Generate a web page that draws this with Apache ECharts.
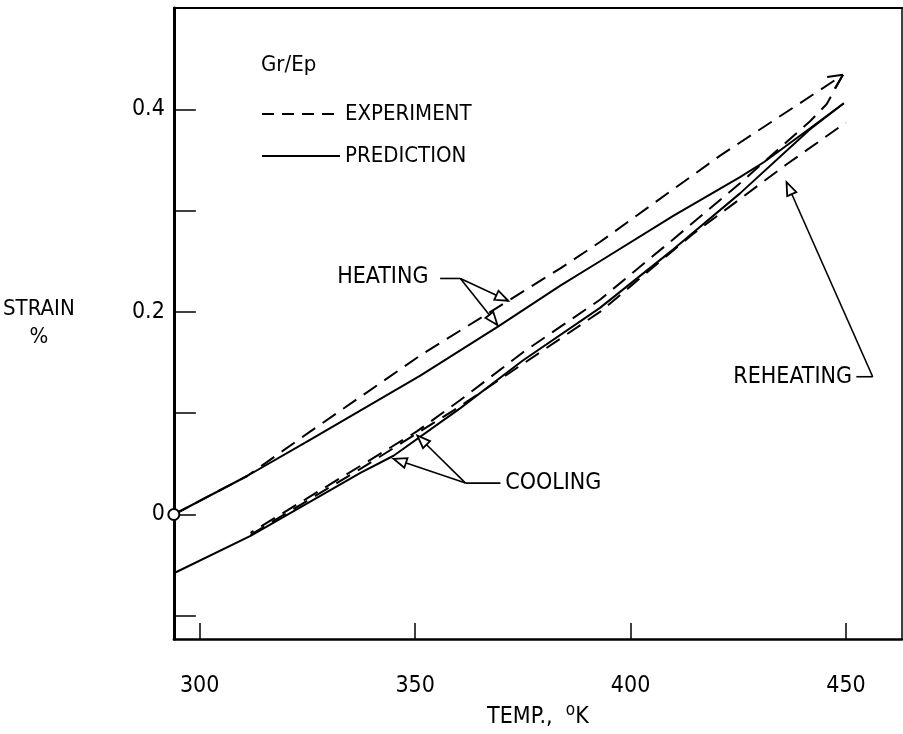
<!DOCTYPE html>
<html><head><meta charset="utf-8">
<script src="https://cdn.jsdelivr.net/npm/echarts@6/dist/echarts.min.js"></script>
<style>html,body{margin:0;padding:0;background:#fff}#c{width:903px;height:734px}</style>
</head><body><div id="c"></div>
<script>
// ---- data (temperature K, strain %) ----
const heatingExpT = [294, 311, 325.7, 351.2, 371.6, 383.7, 392.9, 420.7, 449.3];
const heatingExpS = [0, 0.038, 0.082, 0.157, 0.211, 0.243, 0.269, 0.354, 0.434];
const heatingPredT = [294, 311, 325.7, 351.2, 369.4, 383.7, 392.9, 410, 425.4, 431, 441.6, 449.5];
const heatingPredS = [0, 0.038, 0.074, 0.137, 0.186, 0.226, 0.250, 0.295, 0.333, 0.348, 0.381, 0.406];
const coolingPredT = [449.5, 441.6, 425.4, 410, 392.9, 375, 360.5, 345, 337.3, 311.8, 294];
const coolingPredS = [0.406, 0.38, 0.317, 0.262, 0.204, 0.152, 0.105, 0.058, 0.041, -0.021, -0.058];
const coolingExpT = [449.3, 445.5, 441.6, 425.4, 410, 392.9, 375, 360.5, 350.4, 337.3, 311.8];
const coolingExpS = [0.434, 0.405, 0.388, 0.327, 0.272, 0.212, 0.16, 0.113, 0.082, 0.048, -0.018];
const reheatExpT = [311.8, 337.3, 360.5, 392.9, 414.5, 436, 450];
const reheatExpS = [-0.02, 0.045, 0.107, 0.2, 0.277, 0.345, 0.387];
const xTicks = [300, 350, 400, 450];
const yTicks = [-0.1, 0, 0.1, 0.2, 0.3, 0.4];
const yLabels = [0, 0.2, 0.4];
const legendNames = ['EXPERIMENT', 'PREDICTION'];

const FONT = "'DejaVu Sans Condensed','DejaVu Sans',sans-serif";
const zip = (a, b) => a.map((v, i) => [v, b[i]]);
const dashed = { color: '#000', width: 2, type: [16, 9] };
const solid = { color: '#000', width: 2, type: 'solid' };

const chart = echarts.init(document.getElementById('c'));
const option = {
  animation: false,
  backgroundColor: '#fff',
  title: { text: 'Gr/Ep', left: 256, top: 49, textStyle: { fontFamily: FONT, fontSize: 22, fontWeight: 'normal', color: '#000' } },
  legend: {
    data: [
      { name: legendNames[0], lineStyle: { type: [12, 8], width: 2, color: '#000' } },
      { name: legendNames[1], lineStyle: { type: 'solid', width: 2, color: '#000' } }
    ],
    orient: 'vertical', left: 256, top: 98, itemWidth: 78, itemHeight: 14, itemGap: 20,
    itemStyle: { opacity: 0 },
    textStyle: { fontFamily: FONT, fontSize: 22, color: '#000' }, selectedMode: false
  },
  grid: { left: 173, right: 1, top: 8, bottom: 90, containLabel: false },
  xAxis: [{
    type: 'value', min: 294, max: 463, position: 'bottom',
    splitLine: { show: false },
    axisLine: { onZero: false, lineStyle: { color: '#000', width: 2.5 } },
    axisTick: { inside: true, length: 16, customValues: xTicks, lineStyle: { color: '#000', width: 1.5 } },
    axisLabel: { customValues: xTicks, margin: 35, fontFamily: FONT, fontSize: 23, color: '#000' },
    name: '{a|TEMP.,  }{s|o}{a|K}', nameLocation: 'middle', nameGap: 61,
    nameTextStyle: { rich: { a: { fontFamily: FONT, fontSize: 23, color: '#000' }, s: { fontFamily: FONT, fontSize: 17, color: '#000', padding: [0, 0, 14, 0] } } }
  }, {
    type: 'value', min: 294, max: 463, position: 'top',
    splitLine: { show: false }, axisTick: { show: false }, axisLabel: { show: false },
    axisLine: { onZero: false, lineStyle: { color: '#000', width: 2 } }
  }],
  yAxis: [{
    type: 'value', min: -0.123, max: 0.5, position: 'left',
    splitLine: { show: false },
    axisLine: { onZero: false, lineStyle: { color: '#000', width: 3 } },
    axisTick: { inside: true, length: 22, customValues: yTicks, lineStyle: { color: '#000', width: 1.5 } },
    axisLabel: { customValues: yLabels, margin: 9, fontFamily: FONT, fontSize: 23, color: '#000',
      formatter: v => (Math.abs(v) < 1e-9 ? '0' : v.toFixed(1)) },
    name: 'STRAIN\n%', nameLocation: 'middle', nameRotate: 0, nameGap: 135,
    nameTextStyle: { fontFamily: FONT, fontSize: 22, color: '#000', lineHeight: 28, align: 'center' }
  }, {
    type: 'value', min: -0.123, max: 0.5, position: 'right',
    splitLine: { show: false }, axisTick: { show: false }, axisLabel: { show: false },
    axisLine: { show: true, onZero: false, lineStyle: { color: '#000', width: 1.5 } }
  }],
  series: [
    { name: 'EXPERIMENT', type: 'line', data: zip(heatingExpT, heatingExpS), symbol: 'none', lineStyle: dashed, itemStyle: { color: '#000' }, z: 3 },
    { name: 'PREDICTION', type: 'line', data: zip(heatingPredT, heatingPredS), symbol: 'none', lineStyle: solid, itemStyle: { color: '#000' }, z: 3 },
    { name: 'PREDICTION', type: 'line', data: zip(coolingPredT, coolingPredS), symbol: 'none', lineStyle: solid, itemStyle: { color: '#000' }, z: 3 },
    { name: 'EXPERIMENT', type: 'line', data: zip(coolingExpT, coolingExpS), symbol: 'none', lineStyle: dashed, itemStyle: { color: '#000' }, z: 3 },
    { name: 'EXPERIMENT', type: 'line', data: zip(reheatExpT, reheatExpS), symbol: 'none', lineStyle: dashed, itemStyle: { color: '#000' }, z: 3 },
    { name: 'start', type: 'scatter', data: [[heatingPredT[0], heatingPredS[0]]], symbol: 'circle', symbolSize: 11,
      itemStyle: { color: '#fff', borderColor: '#000', borderWidth: 2, opacity: 1 }, emphasis: { disabled: true }, z: 5 }
  ]
};
chart.setOption(option);

// ---- annotations (anchored in data space) ----
const P = p => chart.convertToPixel({ xAxisIndex: 0, yAxisIndex: 0 }, p);
const g = [];
function seg(a, b, w) { g.push({ type: 'line', shape: { x1: a[0], y1: a[1], x2: b[0], y2: b[1] }, style: { stroke: '#000', lineWidth: w || 1.6 }, z: 10 }); }
function tri(tip, from, len, half) {
  const dx = tip[0] - from[0], dy = tip[1] - from[1], L = Math.hypot(dx, dy), ux = dx / L, uy = dy / L;
  const bx = tip[0] - ux * len, by = tip[1] - uy * len;
  g.push({ type: 'polygon', shape: { points: [[tip[0], tip[1]], [bx - uy * half, by + ux * half], [bx + uy * half, by - ux * half]] },
    style: { fill: '#fff', stroke: '#000', lineWidth: 1.8 }, z: 11 });
}
function label(p, txt, align) {
  g.push({ type: 'text', x: p[0], y: p[1], style: { text: txt, fontFamily: FONT, fontSize: 23, fill: '#000', align: align, verticalAlign: 'middle' }, z: 12 });
}
// HEATING
{
  label(P([353.1, 0.234]), 'HEATING', 'right');
  const a = P([355.8, 0.233]), b = P([360.5, 0.233]);
  const t1 = P([371.6, 0.211]), t2 = P([369.1, 0.187]);
  seg(a, b); seg(b, t1); seg(b, t2); tri(t1, b, 13, 5); tri(t2, b, 13, 5);
}
// COOLING
{
  label(P([370.9, 0.031]), 'COOLING', 'left');
  const a = P([361.7, 0.031]), b = P([369.8, 0.031]);
  const t1 = P([345, 0.055]), t2 = P([350.5, 0.078]);
  seg(a, b); seg(a, t1); seg(a, t2); tri(t1, a, 13, 5); tri(t2, a, 13, 5);
}
// REHEATING
{
  label(P([451.4, 0.136]), 'REHEATING', 'right');
  const a = P([452.4, 0.136]), b = P([456.2, 0.136]);
  const t = P([436.2, 0.328]);
  seg(a, b); seg(b, t); tri(t, b, 13, 5);
}
// open arrowhead at the end of the heating experiment curve
{
  const n = heatingExpT.length;
  const tip = P([heatingExpT[n - 1], heatingExpS[n - 1]]), prev = P([heatingExpT[n - 2], heatingExpS[n - 2]]);
  const dx = tip[0] - prev[0], dy = tip[1] - prev[1], L = Math.hypot(dx, dy), ux = dx / L, uy = dy / L;
  const len = 16, ang = 0.45;
  const r = (x, y, t) => [x * Math.cos(t) - y * Math.sin(t), x * Math.sin(t) + y * Math.cos(t)];
  const d1 = r(-ux, -uy, ang), d2 = r(-ux, -uy, -ang);
  seg(tip, [tip[0] + d1[0] * len, tip[1] + d1[1] * len], 2);
  seg(tip, [tip[0] + d2[0] * len, tip[1] + d2[1] * len], 2);
}
chart.setOption({ graphic: g });
</script></body></html>
